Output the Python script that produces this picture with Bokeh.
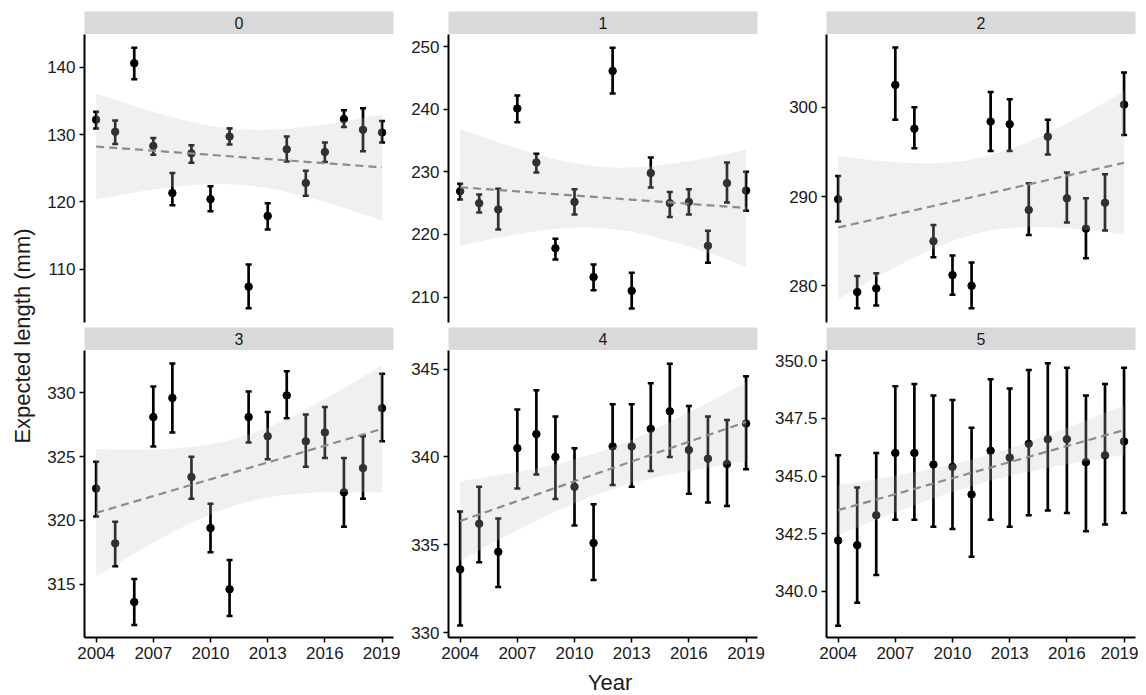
import numpy as np
from bokeh.plotting import figure
from bokeh.layouts import gridplot, column, row
from bokeh.models import ColumnDataSource, Whisker, TeeHead, Range1d, FixedTicker, NumeralTickFormatter
from bokeh.core.properties import value
from bokeh.embed import file_html
from bokeh.resources import INLINE

years = list(range(2004, 2020))
panels = ["0", "1", "2", "3", "4", "5"]

est0 = [132.2, 130.4, 140.6, 128.3, 121.3, 127.2, 120.4, 129.7, 107.4, 117.9, 127.8, 122.8, 127.4, 132.3, 130.7, 130.3]
lo0 = [130.9, 128.6, 138.2, 127.0, 119.5, 125.8, 118.6, 128.5, 104.2, 115.9, 126.0, 120.9, 125.9, 131.1, 127.5, 128.8]
hi0 = [133.4, 132.1, 142.9, 129.5, 124.3, 128.4, 122.3, 130.9, 110.7, 119.8, 129.7, 124.6, 128.8, 133.6, 133.9, 132.0]

est1 = [226.9, 225.0, 224.0, 240.1, 231.5, 217.8, 225.2, 213.2, 246.1, 211.0, 229.8, 225.0, 225.2, 218.2, 228.2, 227.0]
lo1 = [225.6, 223.5, 220.8, 237.9, 229.9, 216.0, 223.2, 211.1, 242.5, 208.2, 227.5, 222.8, 223.2, 215.5, 225.1, 223.8]
hi1 = [228.1, 226.4, 227.3, 242.2, 232.9, 219.3, 227.2, 215.2, 249.8, 213.9, 232.3, 226.8, 227.2, 220.6, 231.5, 230.0]

est2 = [289.7, 279.3, 279.7, 302.5, 297.6, 285.0, 281.2, 280.0, 298.4, 298.1, 288.5, 296.7, 289.8, 286.4, 289.3, 300.3]
lo2 = [287.2, 277.5, 277.8, 298.6, 295.4, 283.2, 279.0, 277.5, 295.1, 295.1, 285.7, 294.7, 287.1, 283.1, 286.2, 296.9]
hi2 = [292.3, 281.1, 281.4, 306.7, 300.0, 286.8, 283.4, 282.6, 301.7, 300.9, 291.5, 298.6, 292.7, 289.8, 292.5, 303.9]

est3 = [322.5, 318.2, 313.6, 328.1, 329.6, 323.4, 319.4, 314.6, 328.1, 326.6, 329.8, 326.2, 326.9, 322.2, 324.1, 328.8]
lo3 = [320.3, 316.4, 311.8, 325.8, 326.9, 321.7, 317.5, 312.5, 326.1, 324.8, 328.0, 324.2, 324.9, 319.5, 321.7, 326.2]
hi3 = [324.6, 319.9, 315.4, 330.5, 332.3, 325.0, 321.3, 316.9, 330.1, 328.5, 331.7, 328.3, 328.9, 324.9, 326.6, 331.5]

est4 = [333.6, 336.2, 334.6, 340.5, 341.3, 340.0, 338.3, 335.1, 340.6, 340.6, 341.6, 342.6, 340.4, 339.9, 339.6, 341.9]
lo4 = [330.4, 334.0, 332.6, 338.2, 339.0, 337.6, 336.1, 333.0, 338.4, 338.3, 339.2, 340.0, 337.9, 337.4, 337.2, 339.3]
hi4 = [336.9, 338.3, 336.5, 342.7, 343.8, 342.3, 340.5, 337.3, 343.0, 343.0, 344.2, 345.3, 342.9, 342.3, 342.1, 344.6]

est5 = [342.2, 342.0, 343.3, 346.0, 346.0, 345.5, 345.4, 344.2, 346.1, 345.8, 346.4, 346.6, 346.6, 345.6, 345.9, 346.5]
lo5 = [338.5, 339.5, 340.7, 343.1, 343.1, 342.8, 342.7, 341.5, 343.1, 342.8, 343.3, 343.5, 343.4, 342.6, 342.9, 343.4]
hi5 = [345.9, 344.5, 346.0, 348.9, 349.0, 348.5, 348.3, 347.1, 349.2, 348.8, 349.6, 349.9, 349.7, 348.5, 349.0, 349.7]

x_ticks = [2004, 2007, 2010, 2013, 2016, 2019]
y_ticks = [[110, 120, 130, 140], [210, 220, 230, 240, 250], [280, 290, 300],
           [315, 320, 325, 330], [330, 335, 340, 345], [340.0, 342.5, 345.0, 347.5, 350.0]]
y_ranges = [(102.07, 144.86), (205.95, 251.92), (275.89, 308.15),
            (310.82, 333.32), (329.72, 346.06), (337.99, 350.45)]

series = [(est0, lo0, hi0), (est1, lo1, hi1), (est2, lo2, hi2),
          (est3, lo3, hi3), (est4, lo4, hi4), (est5, lo5, hi5)]

FONT = value("Liberation Sans")
col_left = [46, 48, 60]
col_right = [7, 9, 3]
FRAME_W = 309
TOTAL_H = 694


def lm_band(x, y):
    x = np.asarray(x, float)
    y = np.asarray(y, float)
    n = len(x)
    xm, ym = x.mean(), y.mean()
    sxx = ((x - xm) ** 2).sum()
    b = ((x - xm) * (y - ym)).sum() / sxx
    a = ym - b * xm
    s = np.sqrt(((y - (a + b * x)) ** 2).sum() / (n - 2))
    xs = np.linspace(x.min(), x.max(), 80)
    fit = a + b * xs
    se = s * np.sqrt(1.0 / n + (xs - xm) ** 2 / sxx)
    t = 2.1448
    return xs, fit, fit - t * se, fit + t * se


def strip(i, c, top):
    w = col_left[c] + FRAME_W + col_right[c]
    h = 23 + top
    s = figure(width=w, height=h, x_range=Range1d(0, 1), y_range=Range1d(0, 1),
               x_axis_type=None, y_axis_type=None, toolbar_location=None,
               output_backend="svg", min_border_left=col_left[c],
               min_border_right=col_right[c], min_border_top=top, min_border_bottom=0)
    s.background_fill_color = "#D9D9D9"
    s.border_fill_color = "white"
    s.outline_line_color = None
    s.grid.visible = False
    s.text(x=[0.5], y=[0.5], text=[panels[i]], text_align="center", text_baseline="middle",
           text_font=FONT, text_font_size=value("16px"), text_color="#1A1A1A")
    return s


def panel(i, c, bottom_row):
    w = col_left[c] + FRAME_W + col_right[c]
    h = (287 + 30) if bottom_row else (288 + 5)
    p = figure(width=w, height=h, x_range=Range1d(2003.39, 2019.6),
               y_range=Range1d(*y_ranges[i]), toolbar_location=None, output_backend="svg",
               x_axis_location="below" if bottom_row else None,
               min_border_left=col_left[c], min_border_right=col_right[c],
               min_border_top=0, min_border_bottom=30 if bottom_row else 5)
    p.outline_line_color = None
    p.grid.visible = False
    p.background_fill_color = "white"
    est, lo, hi = series[i]
    src = ColumnDataSource(dict(year=years, est=est, lo=lo, hi=hi))
    wk = Whisker(base="year", upper="hi", lower="lo", source=src, dimension="height",
                 line_color="black", line_width=2.7,
                 upper_head=TeeHead(size=6, line_width=2.5, line_color="black"),
                 lower_head=TeeHead(size=6, line_width=2.5, line_color="black"))
    p.add_layout(wk)
    p.scatter(x="year", y="est", source=src, size=7.5, color="black")
    xs, fit, lower, upper = lm_band(years, est)
    p.varea(x=xs, y1=lower, y2=upper, fill_color="#C4C4C4", fill_alpha=0.25)
    p.line(x=xs, y=fit, line_color="#8C8C8C", line_width=2.2, line_dash="8 5")
    axes = [p.yaxis[0]] + ([p.xaxis[0]] if bottom_row else [])
    for ax in axes:
        ax.axis_line_color = "black"
        ax.axis_line_width = 2
        ax.major_tick_line_color = "black"
        ax.major_tick_line_width = 1.5
        ax.major_tick_out = 5
        ax.major_tick_in = 0
        ax.minor_tick_line_color = None
        ax.major_label_text_font = "Liberation Sans"
        ax.major_label_text_font_size = "17px"
        ax.major_label_text_color = "#1A1A1A"
        ax.major_label_standoff = 4
    p.yaxis.ticker = FixedTicker(ticks=y_ticks[i])
    if i == 5:
        p.yaxis.formatter = NumeralTickFormatter(format="0.0")
    if bottom_row:
        p.xaxis.ticker = FixedTicker(ticks=x_ticks)
        p.xaxis.major_label_standoff = 4
    return p


grid = gridplot([
    [strip(0, 0, 11), strip(1, 1, 11), strip(2, 2, 11)],
    [panel(0, 0, False), panel(1, 1, False), panel(2, 2, False)],
    [strip(3, 0, 0), strip(4, 1, 0), strip(5, 2, 0)],
    [panel(3, 0, True), panel(4, 1, True), panel(5, 2, True)],
], toolbar_location=None)

total_w = sum(col_left) + 3 * FRAME_W + sum(col_right)
xl = figure(width=total_w, height=27, x_range=Range1d(0, total_w), y_range=Range1d(0, 27),
            x_axis_type=None, y_axis_type=None, toolbar_location=None, output_backend="svg",
            min_border=0)
xl.outline_line_color = None
xl.grid.visible = False
xl.text(x=[571.5], y=[12.5], text=["Year"], text_align="center", text_baseline="middle",
        text_font=FONT, text_font_size=value("22px"), text_color="#1A1A1A")

yl = figure(width=38, height=TOTAL_H, x_range=Range1d(0, 38), y_range=Range1d(0, TOTAL_H),
            x_axis_type=None, y_axis_type=None, toolbar_location=None, output_backend="svg",
            min_border=0)
yl.outline_line_color = None
yl.grid.visible = False
yl.text(x=[22], y=[TOTAL_H - 335.5], text=["Expected length (mm)"], angle=np.pi / 2,
        text_align="center", text_baseline="middle",
        text_font=FONT, text_font_size=value("22px"), text_color="#1A1A1A")

layout = row(yl, column(grid, xl))

open("out.html", "w").write(file_html(layout, INLINE))
